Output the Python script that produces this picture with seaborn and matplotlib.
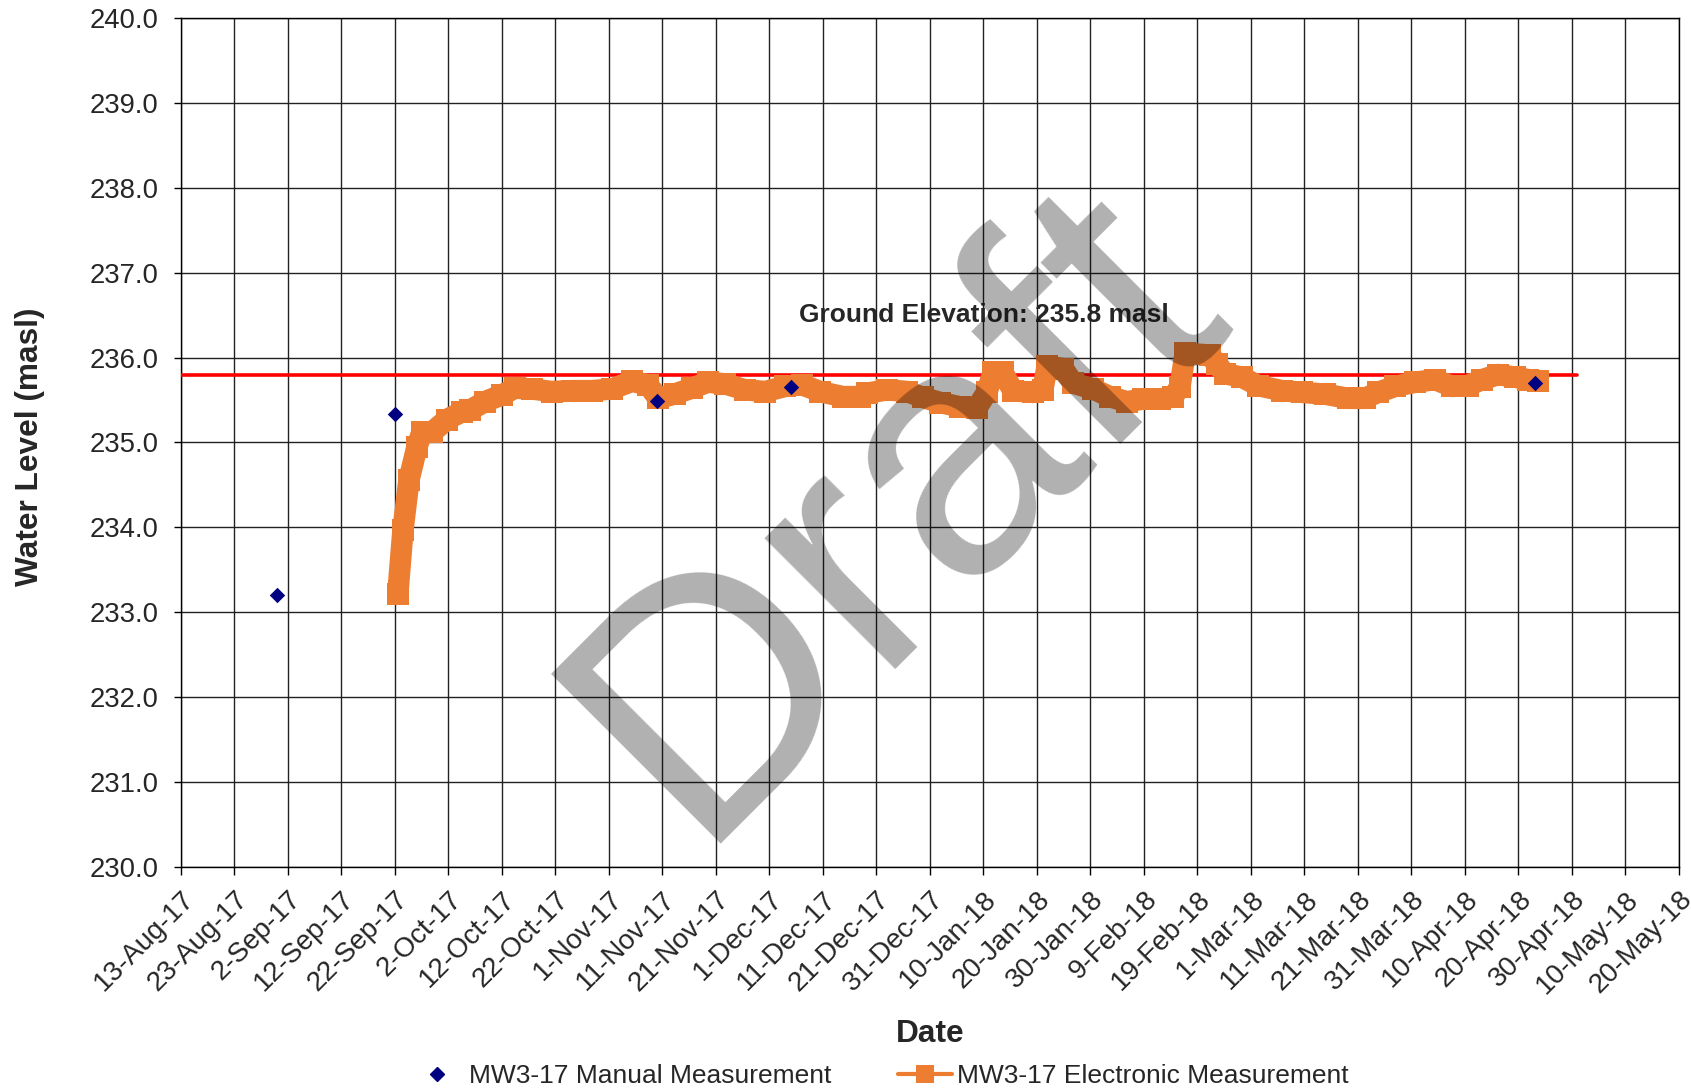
import matplotlib
matplotlib.use("Agg")
import matplotlib.pyplot as plt
from matplotlib.lines import Line2D
import seaborn as sns
import pandas as pd

# Manual water level readings (masl)
manual_dates = ["2017-08-31", "2017-09-22", "2017-11-10", "2017-12-05", "2018-04-23"]
manual_levels = [233.20, 235.34, 235.49, 235.65, 235.70]

# Pressure transducer (electronic) record (masl)
logger_dates = [
    "2017-09-22 13:00", "2017-09-23 12:00", "2017-09-24 15:00", "2017-09-26 03:00",
    "2017-09-27 01:00", "2017-09-28 22:00", "2017-10-01 17:00", "2017-10-04 12:00",
    "2017-10-06 00:00", "2017-10-08 19:00", "2017-10-12 00:00", "2017-10-14 10:00",
    "2017-10-17 14:00", "2017-10-21 07:00", "2017-10-25 02:00", "2017-10-28 19:00",
    "2017-11-01 14:00", "2017-11-05 07:00", "2017-11-08 07:00", "2017-11-10 05:00",
    "2017-11-13 07:00", "2017-11-16 12:00", "2017-11-19 12:00", "2017-11-22 17:00",
    "2017-11-26 10:00", "2017-11-30 05:00", "2017-12-03 22:00", "2017-12-07 02:00",
    "2017-12-10 10:00", "2017-12-14 17:00", "2017-12-17 22:00", "2017-12-19 05:00",
    "2017-12-23 00:00", "2017-12-26 17:00", "2017-12-29 17:00", "2018-01-01 22:00",
    "2018-01-05 14:00", "2018-01-08 19:00", "2018-01-10 17:00", "2018-01-11 19:00",
    "2018-01-13 14:00", "2018-01-15 12:00", "2018-01-19 07:00", "2018-01-21 02:00",
    "2018-01-21 22:00", "2018-01-24 22:00", "2018-01-26 17:00", "2018-01-30 12:00",
    "2018-02-02 14:00", "2018-02-05 19:00", "2018-02-08 19:00", "2018-02-12 00:00",
    "2018-02-14 10:00", "2018-02-15 17:00", "2018-02-16 17:00", "2018-02-21 07:00",
    "2018-02-22 14:00", "2018-02-24 02:00", "2018-02-27 07:00", "2018-03-02 07:00",
    "2018-03-06 19:00", "2018-03-10 12:00", "2018-03-14 19:00", "2018-03-19 02:00",
    "2018-03-22 07:00", "2018-03-24 17:00", "2018-03-27 22:00", "2018-03-31 17:00",
    "2018-04-04 10:00", "2018-04-07 14:00", "2018-04-10 14:00", "2018-04-13 05:00",
    "2018-04-16 05:00", "2018-04-19 07:00", "2018-04-21 19:00", "2018-04-23 14:00",
]
logger_levels = [
    233.22, 233.97, 234.56, 234.95,
    235.12, 235.12, 235.27, 235.36,
    235.38, 235.48, 235.56, 235.64,
    235.63, 235.60, 235.61, 235.61,
    235.63, 235.72, 235.68, 235.52,
    235.57, 235.64, 235.71, 235.69,
    235.62, 235.60, 235.66, 235.68,
    235.60, 235.54, 235.54, 235.58,
    235.62, 235.60, 235.53, 235.47,
    235.42, 235.41, 235.60, 235.83,
    235.83, 235.61, 235.59, 235.62,
    235.90, 235.87, 235.70, 235.63,
    235.54, 235.48, 235.51, 235.51,
    235.54, 235.65, 236.05, 236.03,
    235.93, 235.81, 235.77, 235.67,
    235.61, 235.59, 235.57, 235.52,
    235.52, 235.59, 235.66, 235.71,
    235.74, 235.66, 235.67, 235.74,
    235.80, 235.77, 235.74, 235.72,
]

ground_elevation = 235.8
ground_line_dates = ["2017-08-13", "2018-05-01"]

tick_labels = [
    "13-Aug-17", "23-Aug-17", "2-Sep-17", "12-Sep-17", "22-Sep-17", "2-Oct-17",
    "12-Oct-17", "22-Oct-17", "1-Nov-17", "11-Nov-17", "21-Nov-17", "1-Dec-17",
    "11-Dec-17", "21-Dec-17", "31-Dec-17", "10-Jan-18", "20-Jan-18", "30-Jan-18",
    "9-Feb-18", "19-Feb-18", "1-Mar-18", "11-Mar-18", "21-Mar-18", "31-Mar-18",
    "10-Apr-18", "20-Apr-18", "30-Apr-18", "10-May-18", "20-May-18",
]
y_ticks = [230.0, 231.0, 232.0, 233.0, 234.0, 235.0, 236.0, 237.0, 238.0, 239.0, 240.0]

manual_label = "MW3-17 Manual Measurement"
logger_label = "MW3-17 Electronic Measurement"

ORANGE = "#ED7D31"
NAVY = "#000080"

sns.set_theme(style="white")
plt.rcParams["font.family"] = ["Liberation Sans", "DejaVu Sans"]

manual = pd.DataFrame({"date": pd.to_datetime(manual_dates), "level": manual_levels})
logger = pd.DataFrame({"date": pd.to_datetime(logger_dates), "level": logger_levels})
ground = pd.DataFrame({"date": pd.to_datetime(ground_line_dates),
                       "level": [ground_elevation] * len(ground_line_dates)})
tick_pos = pd.to_datetime(tick_labels, format="%d-%b-%y")

fig = plt.figure(figsize=(16.91, 10.89), dpi=100)
ax = fig.add_axes([0.1070, 0.2039, 0.8859, 0.7796])

# ground surface reference line
sns.lineplot(data=ground, x="date", y="level", ax=ax, color="#FF0000",
             linewidth=2.6, estimator=None, sort=False, legend=False, zorder=3)

# continuous logger record, heavy line with square markers
sns.lineplot(data=logger, x="date", y="level", ax=ax, color=ORANGE,
             linewidth=15.5, marker="s", markersize=15.5, markeredgewidth=0,
             solid_joinstyle="round", solid_capstyle="butt",
             estimator=None, sort=False, legend=False, zorder=4)

# manual dip readings
sns.scatterplot(data=manual, x="date", y="level", ax=ax, color=NAVY,
                marker="D", s=62, edgecolor=NAVY, linewidth=0, legend=False, zorder=5)

ax.set_xlim(tick_pos[0], tick_pos[-1])
ax.set_ylim(y_ticks[0], y_ticks[-1])
ax.set_xticks(tick_pos)
ax.set_xticklabels(tick_labels, rotation=45, ha="right", va="top",
                   rotation_mode="anchor", fontsize=20)
ax.set_yticks(y_ticks)
ax.set_yticklabels([f"{v:.1f}" for v in y_ticks], fontsize=19.8)

ax.grid(True, color="#222222", linewidth=1.0)
ax.set_axisbelow(True)
for side in ["left", "right", "top", "bottom"]:
    ax.spines[side].set_visible(True)
    ax.spines[side].set_color("black")
    ax.spines[side].set_linewidth(1.0)

ax.tick_params(axis="x", direction="out", length=5.4, width=1.0, color="black",
               pad=8.5, bottom=True)
ax.tick_params(axis="y", direction="out", length=5.4, width=1.0, color="black",
               pad=11.0, left=True)

ax.set_xlabel("Date", fontsize=22.8, fontweight="bold")
ax.xaxis.set_label_coords(0.5, -0.197)
ax.xaxis.label.set_va("center")
ax.set_ylabel("Water Level (masl)", fontsize=22.8, fontweight="bold")
ax.yaxis.set_label_coords(-0.1006, 0.4947)
ax.yaxis.label.set_va("center")

ax.text(pd.Timestamp("2017-12-06 12:00"), 236.42,
        f"Ground Elevation: {ground_elevation:.1f} masl",
        fontsize=19, fontweight="bold", ha="left", va="baseline", zorder=6)

handles = [
    Line2D([], [], linestyle="none", marker="D", markersize=7.5,
           markerfacecolor=NAVY, markeredgecolor=NAVY),
    Line2D([], [], color=ORANGE, linewidth=3, marker="s", markersize=13,
           markerfacecolor=ORANGE, markeredgewidth=0),
]
fig.legend(handles, [manual_label, logger_label], loc="center",
           bbox_to_anchor=(0.52, 0.0117), ncol=2, frameon=False, fontsize=19,
           handlelength=2.05, handletextpad=0.2, columnspacing=2.5,
           borderaxespad=0, borderpad=0)

# draft watermark
fig.text(0.4092, 0.2250, "Draft", fontsize=252, rotation=45, rotation_mode="anchor",
         ha="left", va="baseline", color="black", alpha=0.31, zorder=10)

fig.savefig("out.png", dpi=100)
